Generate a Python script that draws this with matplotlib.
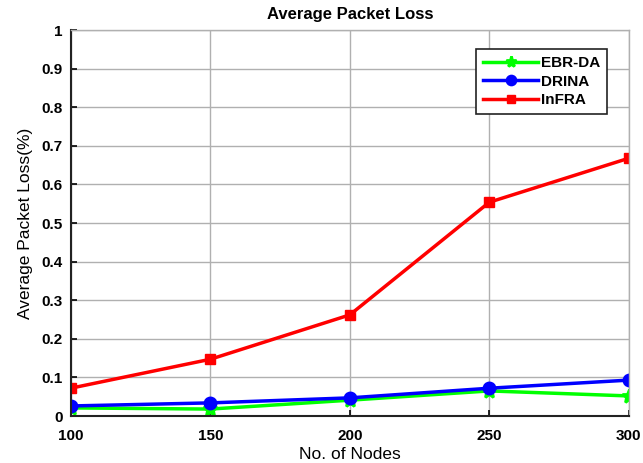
import matplotlib
matplotlib.use("Agg")
import matplotlib.pyplot as plt

plt.rcParams['font.family'] = ['Liberation Sans', 'DejaVu Sans']

nodes = [100, 150, 200, 250, 300]
ebr_da = [0.021, 0.018, 0.041, 0.065, 0.052]
drina = [0.026, 0.034, 0.047, 0.072, 0.093]
infra = [0.072, 0.147, 0.262, 0.554, 0.668]
yticks = [0, 0.1, 0.2, 0.3, 0.4, 0.5, 0.6, 0.7, 0.8, 0.9, 1]
ytick_labels = ['0', '0.1', '0.2', '0.3', '0.4', '0.5', '0.6', '0.7', '0.8', '0.9', '1']

fig = plt.figure(figsize=(6.43, 4.63), dpi=100)
ax = fig.add_axes([0.110, 0.1015, 0.868, 0.8335])

ax.plot(nodes, ebr_da, color='#00ff00', lw=2.5, marker='*', ms=10, mew=2, label='EBR-DA')
ax.plot(nodes, drina, color='#0000ff', lw=2.5, marker='o', ms=8, mew=2, mfc='#0000ff', label='DRINA')
ax.plot(nodes, infra, color='#ff0000', lw=2.5, marker='s', ms=7, label='InFRA')

ax.set_xlim(100, 300)
ax.set_ylim(0, 1)
ax.set_xticks(nodes)
ax.set_xticklabels([str(n) for n in nodes], fontweight='bold', fontsize=11)
ax.set_yticks(yticks)
ax.set_yticklabels(ytick_labels, fontweight='bold', fontsize=11)
ax.grid(True, color='#b0b0b0', lw=1)
ax.tick_params(direction='in', length=4, width=1.2)
ax.tick_params(axis='x', pad=9)
ax.tick_params(axis='y', pad=6)
for s in ax.spines.values():
    s.set_linewidth(1.5)
    s.set_color('#222222')
ax.spines['top'].set_color('#b0b0b0')
ax.spines['right'].set_color('#b0b0b0')
ax.spines['top'].set_linewidth(1)
ax.spines['right'].set_linewidth(1)

ax.set_title('Average Packet Loss', fontweight='bold', fontsize=12, pad=8)
ax.set_xlabel('No. of Nodes', fontsize=12.5, labelpad=3)
ax.set_ylabel('Average Packet Loss(%)', fontsize=12.5, labelpad=6)

leg = ax.legend(loc='upper right', bbox_to_anchor=(0.975, 0.97), fancybox=False,
                edgecolor='#222222', framealpha=1, fontsize=11, handlelength=3.6,
                borderpad=0.45, labelspacing=0.3, handletextpad=0.2, markerscale=0.8)
leg.get_frame().set_linewidth(1.2)
for t in leg.get_texts():
    t.set_fontweight('bold')

fig.savefig('out.png', dpi=100)
